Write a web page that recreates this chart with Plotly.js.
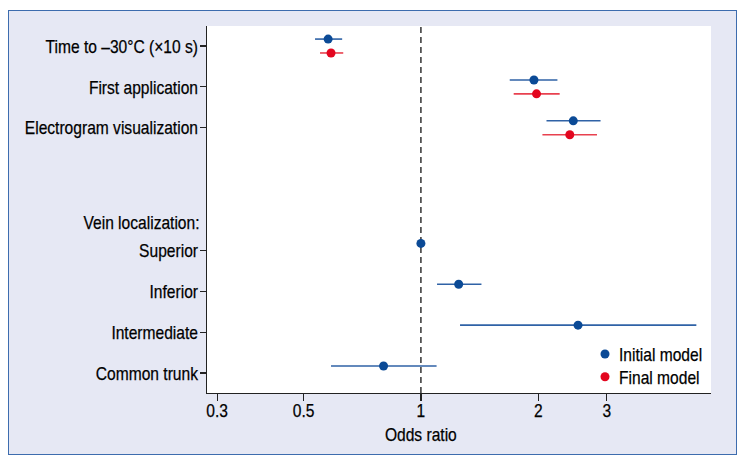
<!DOCTYPE html>
<html>
<head>
<meta charset="utf-8">
<script src="https://cdn.plot.ly/plotly-3.0.1.min.js"></script>
<style>
  html, body { margin: 0; padding: 0; background: #ffffff; }
  #wrap { position: relative; width: 743px; height: 466px; overflow: hidden; }
  #bg { position: absolute; left: 8px; top: 10px; width: 729px; height: 445px;
        background: #e6e8f4; border: 1.5px solid #3d6cae; box-sizing: border-box; }
  #chart { position: absolute; left: 0; top: 0; width: 743px; height: 466px; }
  #chart svg text { stroke: #000; stroke-width: 0.25px; }
</style>
</head>
<body>
<div id="wrap"><div id="bg"></div><div id="chart"></div></div>
<script>
// Row labels (top to bottom); empty string = blank row
const rowLabels = ["Time to \u201330\u00B0C (\u00D710 s)", "First application", "Electrogram visualization", "", "",
                   "Superior", "Inferior", "Intermediate", "Common trunk"];
const groupLabel = "Vein localization:";
const xTitle = "Odds ratio";

// Initial model (odds ratio, lower CI, upper CI) per row; null = no estimate
const initialOR    = [0.578, 1.95, 2.46, null, null, 1.00, 1.25, 2.53, 0.802];
const initialLow   = [0.535, 1.69, 2.10, null, null, null, 1.10, 1.26, 0.588];
const initialHigh  = [0.628, 2.24, 2.89, null, null, null, 1.43, 5.09, 1.097];

// Final model
const finalOR      = [0.588, 1.98, 2.41, null, null, null, null, null, null];
const finalLow     = [0.551, 1.73, 2.05, null, null, null, null, null, null];
const finalHigh    = [0.632, 2.27, 2.83, null, null, null, null, null, null];

const xTicks = [0.3, 0.5, 1, 2, 3];
const xTickText = ["0.3", "0.5", "1", "2", "3"];
const refOR = 1;

const FONT = '"Liberation Sans", Arial, sans-serif';
const FS = 19;
const rows = rowLabels.map((_, i) => i);

function series(or, lo, hi, offset) {
  const x = [], y = [], ep = [], em = [];
  or.forEach((v, i) => {
    if (v === null) return;
    x.push(v); y.push(i + offset);
    ep.push(hi[i] === null ? 0 : hi[i] - v);
    em.push(lo[i] === null ? 0 : v - lo[i]);
  });
  return {x, y, ep, em};
}

const si = series(initialOR, initialLow, initialHigh, -0.17);
const sf = series(finalOR, finalLow, finalHigh, 0.17);

const traces = [
  {
    type: 'scatter', mode: 'markers', name: 'Initial model',
    x: si.x, y: si.y,
    marker: {color: '#0b4a96', size: 9},
    error_x: {type: 'data', symmetric: false, array: si.ep, arrayminus: si.em,
              color: '#2f62a6', thickness: 1.6, width: 0}
  },
  {
    type: 'scatter', mode: 'markers', name: 'Final model',
    x: sf.x, y: sf.y,
    marker: {color: '#e3061f', size: 9},
    error_x: {type: 'data', symmetric: false, array: sf.ep, arrayminus: sf.em,
              color: '#e8414f', thickness: 1.6, width: 0}
  }
];

const tickRows = rows.filter(i => rowLabels[i] !== "");
const layout = {
  width: 743, height: 466,
  margin: {l: 207, r: 32, t: 26, b: 73},
  paper_bgcolor: 'rgba(0,0,0,0)',
  plot_bgcolor: '#ffffff',
  font: {family: FONT, size: FS, color: '#000000'},
  showlegend: true,
  legend: {x: 0.5, xanchor: 'left', y: 0.3, yanchor: 'top', bgcolor: 'rgba(0,0,0,0)',
           font: {family: FONT, size: FS, color: '#000000'}, itemwidth: 30, tracegroupgap: 0},
  xaxis: {
    type: 'log', range: [Math.log10(0.2826), Math.log10(5.55)], automargin: false,
    tickvals: xTicks, ticktext: xTickText,
    ticks: 'outside', ticklen: 7, tickwidth: 1.2, tickcolor: '#222',
    showline: true, linecolor: '#222', linewidth: 1.2, mirror: false,
    showgrid: false, zeroline: false,
    tickfont: {family: FONT, size: FS, color: '#000'}
  },
  yaxis: {
    range: [8.49, -0.49], automargin: false,
    tickvals: tickRows, ticktext: tickRows.map(i => rowLabels[i]),
    ticks: 'outside', ticklen: 6, tickwidth: 1.2, tickcolor: '#222',
    showline: true, linecolor: '#222', linewidth: 1.2,
    showgrid: false, zeroline: false,
    tickfont: {family: FONT, size: FS, color: '#000'}
  },
  shapes: [
    {type: 'line', xref: 'x', yref: 'paper', x0: refOR, x1: refOR, y0: 0, y1: 1,
     line: {color: '#333333', width: 1.5, dash: '6px,4px'}, layer: 'below'}
  ],
  annotations: [
    {text: groupLabel, xref: 'paper', yref: 'y', x: 0, y: 4.32, xanchor: 'right', yanchor: 'middle',
     xshift: -8, showarrow: false, font: {family: FONT, size: FS, color: '#000'}},
    // axis title centred under the reference line (OR = 1), as in the original
    {text: xTitle, xref: 'x', yref: 'paper', x: Math.log10(refOR), y: 0, xanchor: 'center', yanchor: 'top',
     yshift: -29, showarrow: false, font: {family: FONT, size: FS, color: '#000'}}
  ]
};

// condense text horizontally to mimic the condensed typeface of the original
function condense() {
  const F = 0.82;
  document.querySelectorAll('#chart svg text').forEach(el => {
    if (!el.textContent) return;
    const len = el.getComputedTextLength();
    if (!(len > 0)) return;
    el.setAttribute('textLength', (len * F).toFixed(2));
    el.setAttribute('lengthAdjust', 'spacingAndGlyphs');
    if (el.closest('.annotation') && el.textContent === groupLabel) {
      el.setAttribute('dx', (len * (1 - F) / 2 + 3).toFixed(2));
    }
    if (el.closest('.legend')) {
      el.setAttribute('dx', '-6');
    }
    if (el.closest('.xtick')) {
      el.setAttribute('dy', '-7');
    }
    if (el.closest('.ytick')) {
      el.setAttribute('dx', '2');
    }
  });
  // tighter legend row spacing
  const items = document.querySelectorAll('#chart .legend .traces');
  items.forEach((g, i) => {
    const t = g.getAttribute('transform') || '';
    const m = t.match(/translate\(\s*([-\d.]+)[ ,]+([-\d.]+)\s*\)/);
    if (m) {
      g.setAttribute('transform', 'translate(' + parseFloat(m[1]) + ',' + (parseFloat(m[2]) - i * 5) + ')');
    }
  });
  // place the legend inside the lower-right corner of the plot
  const leg = document.querySelector('#chart .legend');
  const pt = document.querySelector('#chart .legend .traces .legendpoints path');
  if (leg && pt) {
    const t = leg.getAttribute('transform') || '';
    const m = t.match(/translate\(\s*([-\d.]+)[ ,]+([-\d.]+)\s*\)/);
    const r = pt.getBoundingClientRect();
    const host = document.getElementById('chart').getBoundingClientRect();
    const cx = r.left + r.width / 2 - host.left;
    const cy = r.top + r.height / 2 - host.top;
    if (m) {
      const nx = parseFloat(m[1]) + (605 - cx);
      const ny = parseFloat(m[2]) + (354 - cy);
      leg.setAttribute('transform', 'translate(' + nx + ',' + ny + ')');
    }
  }
}

Plotly.newPlot('chart', traces, layout, {displayModeBar: false, staticPlot: true}).then(condense);
</script>
</body>
</html>
